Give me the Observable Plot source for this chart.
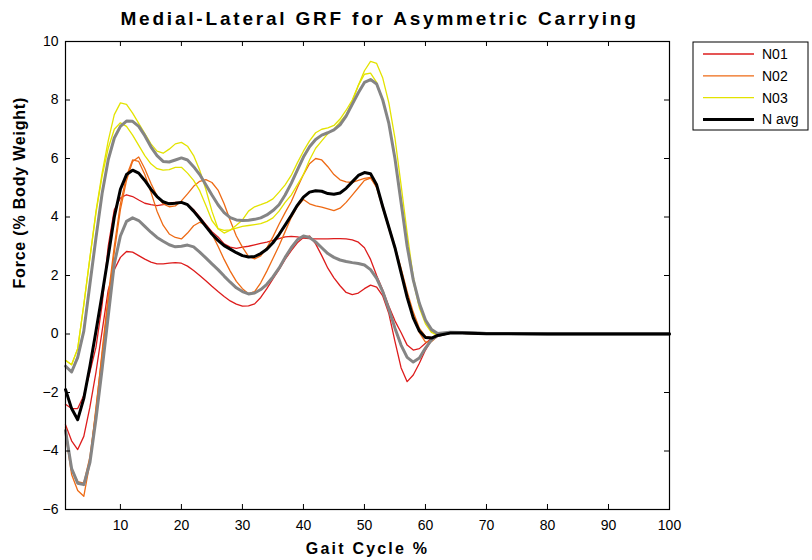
<!DOCTYPE html>
<html><head><meta charset="utf-8">
<script src="https://cdn.jsdelivr.net/npm/d3@7"></script>
<script src="https://cdn.jsdelivr.net/npm/@observablehq/plot@0.6"></script>
<style>
body{margin:0;background:#fff;}
svg{font-family:"Liberation Sans",Arial,sans-serif;}
</style>
</head><body><div id="chart"></div>
<script>
// Gait cycle positions (%)
const gaitX = [1,2,3,4,5,6,7,8,9,10,11,12,13,14,15,16,17,18,19,20,21,22,23,24,25,26,27,28,29,30,31,32,33,34,35,36,37,38,39,40,41,42,43,44,45,46,47,48,49,50,51,52,53,54,55,56,57,58,59,60,61,62,64,66,70,80,100];

// N01 (two traces)
const n01a = [-2.4,-2.55,-2.55,-2.1,-1.3,-0.45,1.0,3.0,4.25,4.65,4.76,4.7,4.58,4.47,4.42,4.39,4.42,4.48,4.5,4.5,4.44,4.25,4.0,3.75,3.5,3.32,3.08,2.97,2.93,2.97,3.0,3.05,3.1,3.14,3.2,3.26,3.32,3.34,3.32,3.28,3.26,3.25,3.25,3.25,3.26,3.26,3.25,3.22,3.14,2.95,2.55,2.0,1.5,0.95,0.45,0.05,-0.38,-0.55,-0.5,-0.32,-0.15,-0.05,0.02,0.02,0.01,0,0];
const n01b = [-3.1,-3.65,-3.95,-3.5,-2.5,-1.3,0.1,1.5,2.2,2.62,2.82,2.8,2.68,2.56,2.46,2.4,2.4,2.42,2.44,2.42,2.32,2.17,2.0,1.82,1.63,1.45,1.28,1.13,1.02,0.95,0.96,1.03,1.25,1.55,1.88,2.2,2.55,2.85,3.12,3.3,3.35,3.08,2.68,2.25,1.92,1.65,1.42,1.35,1.4,1.55,1.67,1.6,1.3,0.7,-0.25,-1.15,-1.63,-1.4,-1.0,-0.55,-0.2,-0.06,0.02,0.02,0.01,0,0];
// N02 (two traces)
const n02a = [-3.4,-4.8,-5.35,-5.55,-4.4,-2.5,-0.7,1.1,2.8,4.25,5.25,5.9,6.05,5.65,5.15,4.72,4.45,4.35,4.38,4.55,4.79,5.05,5.22,5.28,5.18,4.92,4.45,3.88,3.35,2.97,2.65,2.57,2.67,2.95,3.32,3.75,4.15,4.52,5.0,5.45,5.82,6.0,5.95,5.72,5.45,5.27,5.2,5.18,5.25,5.32,5.35,5.0,4.3,3.6,2.9,2.1,1.3,0.6,0.05,-0.28,-0.26,-0.08,0.03,0.03,0.01,0,0];
const n02b = [-3.2,-4.6,-5.05,-5.1,-4.2,-2.6,-0.6,1.3,3.0,4.45,5.4,5.95,5.9,5.45,4.85,4.2,3.72,3.42,3.3,3.25,3.45,3.7,3.82,3.72,3.42,3.0,2.55,2.15,1.8,1.55,1.38,1.45,1.75,2.15,2.58,3.02,3.5,3.98,4.35,4.6,4.45,4.38,4.34,4.28,4.22,4.3,4.5,4.75,5.0,5.25,5.33,5.05,4.4,3.7,3.0,2.25,1.45,0.75,0.2,-0.08,-0.12,-0.04,0.03,0.03,0.01,0,0];
// N03 (two traces)
const n03a = [-0.9,-1.05,-0.5,1.0,2.6,4.2,5.5,6.6,7.5,7.9,7.85,7.55,7.2,6.85,6.5,6.25,6.18,6.32,6.5,6.55,6.42,6.1,5.6,4.95,4.2,3.6,3.45,3.55,3.72,3.9,4.2,4.35,4.42,4.5,4.62,4.85,5.1,5.42,5.85,6.25,6.6,6.88,7.0,7.05,7.13,7.35,7.65,8.0,8.5,9.0,9.32,9.25,8.75,7.9,6.7,5.1,3.45,1.95,1.0,0.42,0.08,-0.03,0.02,0.02,0.01,0,0];
const n03b = [-0.9,-1.05,-0.5,1.0,2.6,4.15,5.4,6.35,7.0,7.22,7.1,6.8,6.45,6.1,5.82,5.65,5.6,5.62,5.7,5.7,5.5,5.25,4.9,4.4,3.88,3.6,3.54,3.56,3.62,3.68,3.71,3.74,3.77,3.85,3.97,4.2,4.5,4.75,5.1,5.45,5.95,6.35,6.6,6.85,7.0,7.25,7.5,7.95,8.5,8.88,8.92,8.6,8.0,7.2,6.0,4.6,3.1,1.8,0.9,0.35,0.05,-0.05,0.02,0.02,0.01,0,0];
// N average and its band
const nAvg = [-1.9,-2.55,-2.93,-2.2,-1.1,0.1,1.35,2.65,4.0,4.95,5.45,5.6,5.5,5.25,4.95,4.7,4.52,4.45,4.47,4.5,4.42,4.2,3.95,3.68,3.42,3.2,3.02,2.9,2.78,2.68,2.63,2.65,2.75,2.9,3.12,3.4,3.72,4.05,4.4,4.68,4.85,4.9,4.88,4.8,4.78,4.82,4.98,5.2,5.42,5.52,5.48,5.1,4.35,3.65,2.95,2.1,1.25,0.55,0.1,-0.12,-0.14,-0.05,0.03,0.03,0.01,0,0];
const nAvgHi = [-1.1,-1.3,-0.8,0.1,1.7,3.3,4.8,5.95,6.7,7.1,7.28,7.27,7.1,6.78,6.4,6.1,5.9,5.88,5.95,6.02,5.95,5.72,5.45,5.1,4.75,4.42,4.15,3.98,3.9,3.88,3.89,3.92,3.97,4.07,4.22,4.42,4.75,5.15,5.6,6.05,6.4,6.65,6.8,6.88,6.98,7.15,7.45,7.85,8.25,8.6,8.7,8.55,8.0,7.2,6.0,4.5,3.0,1.85,1.05,0.48,0.15,0.02,0.06,0.05,0.02,0.01,0.01];
const nAvgLo = [-3.3,-4.6,-5.1,-5.15,-4.4,-2.9,-1.2,0.6,2.4,3.35,3.85,3.97,3.88,3.68,3.48,3.3,3.17,3.05,2.98,3.0,3.04,2.98,2.8,2.6,2.4,2.2,1.98,1.77,1.58,1.45,1.37,1.4,1.52,1.7,1.95,2.25,2.62,2.95,3.22,3.35,3.3,3.15,2.95,2.75,2.62,2.53,2.48,2.44,2.41,2.36,2.2,1.9,1.45,0.85,0.2,-0.38,-0.8,-0.96,-0.82,-0.48,-0.2,-0.05,0.05,0.05,0.02,0.01,0.01];

const xTicks = [10,20,30,40,50,60,70,80,90,100];
const yTicks = [-6,-4,-2,0,2,4,6,8,10];
const legendNames = ["N01","N02","N03","N avg"];
const titleText = "Medial-Lateral GRF for Asymmetric Carrying";
const xLabel = "Gait Cycle %";
const yLabel = "Force (% Body Weight)";

const colRed = "#dd1c1c", colOrange = "#ee6a14", colYellow = "#e3e300", colGray = "#858585";

const W = 812, H = 560, mL = 65, mT = 41, mR = 143, mB = 51;
const plotW = W - mL - mR, plotH = H - mT - mB, tk = 5;

const toRows = vals => gaitX.map((x, i) => ({x, y: vals[i]}));
const thin = (vals, c) => Plot.line(toRows(vals), {x: "x", y: "y", stroke: c, strokeWidth: 1.3});

const chart = Plot.plot({
  width: W, height: H,
  marginLeft: mL, marginTop: mT, marginRight: mR, marginBottom: mB,
  x: {domain: [1, 100]},
  y: {domain: [-6, 10]},
  style: {fontFamily: '"Liberation Sans", Arial, sans-serif', fontSize: "14px", color: "#000", background: "#fff", overflow: "visible"},
  marks: [
    thin(n01a, colRed), thin(n01b, colRed),
    thin(n02a, colOrange), thin(n02b, colOrange),
    thin(n03a, colYellow), thin(n03b, colYellow),
    Plot.line(toRows(nAvgHi), {x: "x", y: "y", stroke: colGray, strokeWidth: 3}),
    Plot.line(toRows(nAvgLo), {x: "x", y: "y", stroke: colGray, strokeWidth: 3}),
    Plot.line(toRows(nAvg), {x: "x", y: "y", stroke: "#000", strokeWidth: 3}),
    Plot.frame({stroke: "#000", strokeWidth: 1.2}),
    Plot.tickX(xTicks, {x: d => d, stroke: "#000", insetTop: plotH - tk}),
    Plot.tickX(xTicks, {x: d => d, stroke: "#000", insetBottom: plotH - tk}),
    Plot.tickY(yTicks, {y: d => d, stroke: "#000", insetRight: plotW - tk}),
    Plot.tickY(yTicks, {y: d => d, stroke: "#000", insetLeft: plotW - tk}),
    Plot.axisX({ticks: xTicks, tickSize: 0, tickPadding: 11, label: null, fontSize: 14}),
    Plot.axisY({ticks: yTicks, tickSize: 0, tickPadding: 7, label: null, fontSize: 14}),
    Plot.text([xLabel], {frameAnchor: "bottom", lineAnchor: "middle", dy: 39, fontWeight: "bold", fontSize: 16}),
    Plot.text([yLabel], {frameAnchor: "left", lineAnchor: "middle", rotate: -90, dx: -46, dy: 13, fontWeight: "bold", fontSize: 16}),
    Plot.text([titleText], {frameAnchor: "top", lineAnchor: "middle", dx: 12, dy: -23, fontWeight: "bold", fontSize: 19})
  ]
});
document.getElementById("chart").appendChild(chart);

// widen the bold labels like the reference
const svg = d3.select(chart);
svg.selectAll("text").each(function() {
  const t = this.textContent;
  if (t === titleText) d3.select(this).style("letter-spacing", "2.8px");
  else if (t === xLabel) d3.select(this).style("letter-spacing", "2.2px");
  else if (t === yLabel) d3.select(this).style("letter-spacing", "0.8px");
});

// Legend (outside the axes, top right)
const lg = svg.append("g").attr("text-anchor", "start");
lg.append("rect").attr("x", 693).attr("y", 42).attr("width", 115).attr("height", 88)
  .attr("fill", "#fff").attr("stroke", "#000").attr("stroke-width", 1);
const legendColors = [colRed, colOrange, colYellow, "#000"];
const legendWidths = [1.3, 1.3, 1.3, 3];
legendNames.forEach((name, i) => {
  const cy = 54 + i * 21.8;
  lg.append("line").attr("x1", 703).attr("x2", 754).attr("y1", cy).attr("y2", cy)
    .attr("stroke", legendColors[i]).attr("stroke-width", legendWidths[i]);
  lg.append("text").attr("x", 762).attr("y", cy).attr("dy", "0.35em")
    .attr("text-anchor", "start").attr("font-size", 14).attr("fill", "#000").text(name);
});
</script>
</body></html>
